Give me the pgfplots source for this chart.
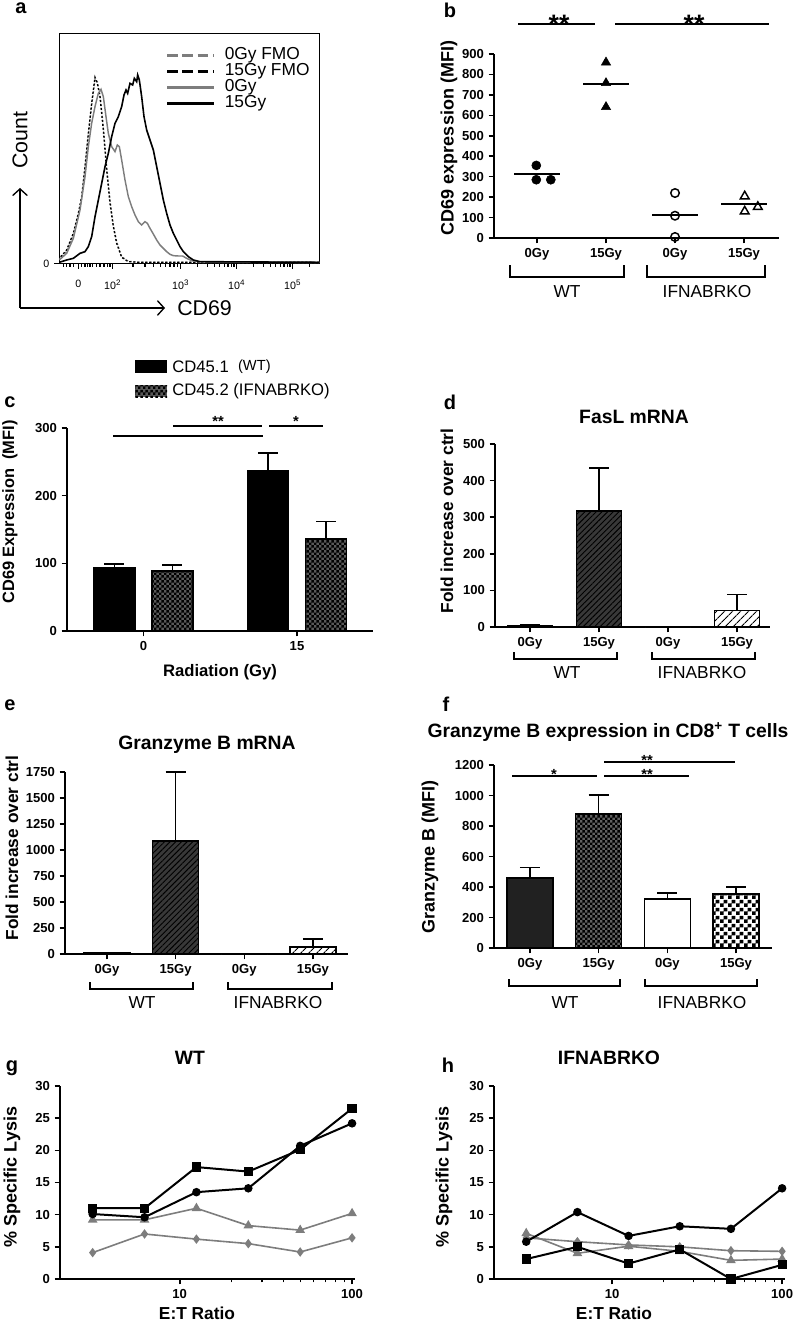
\documentclass[border=0pt]{standalone}
\usepackage{fontspec}
\setmainfont{Liberation Sans}
\usepackage{pgfplots}
\pgfplotsset{compat=1.18}
\usetikzlibrary{patterns,patterns.meta,arrows.meta}
\newcommand{\fs}[1]{\fontsize{#1}{#1}\selectfont}
\pgfdeclarepatternformonly{checkA}{\pgfqpoint{0pt}{0pt}}{\pgfqpoint{4pt}{4pt}}{\pgfqpoint{4pt}{4pt}}{%
 \pgfpathrectangle{\pgfqpoint{0pt}{0pt}}{\pgfqpoint{2pt}{2pt}}%
 \pgfpathrectangle{\pgfqpoint{2pt}{2pt}}{\pgfqpoint{2pt}{2pt}}%
 \pgfusepath{fill}}
\pgfdeclarepatternformonly{checkB}{\pgfqpoint{0pt}{0pt}}{\pgfqpoint{6pt}{6pt}}{\pgfqpoint{6pt}{6pt}}{%
 \pgfpathrectangle{\pgfqpoint{0pt}{0pt}}{\pgfqpoint{3pt}{3pt}}%
 \pgfpathrectangle{\pgfqpoint{3pt}{3pt}}{\pgfqpoint{3pt}{3pt}}%
 \pgfusepath{fill}}
\definecolor{mgray}{RGB}{125,125,125}
\pgfplotsset{
 panel/.style={scale only axis, anchor=south west, clip=false,
  axis x line*=bottom, axis y line*=left,
  axis line style={-, line width=1.3pt},
  tick align=outside, major tick length=4pt, minor tick length=2.5pt,
  tick style={black, line width=1.2pt},
  minor tick style={black, line width=0.9pt},
  tick label style={font=\fs{9.8}\bfseries},
  /pgf/number format/assume math mode=true,
  /pgf/number format/1000 sep={},
  scaled ticks=false},
 ebar/.style={error bars/.cd, y dir=plus, y explicit,
  error bar style={line width=1.2pt, black},
  error mark options={rotate=90, black, line width=1.2pt, mark size=7.5pt}},
 bbar/.style={ybar, bar shift=0pt, draw=black, line width=1.2pt},
}
\begin{document}
\begin{tikzpicture}
\path[use as bounding box] (0,0) rectangle (595.5pt,-992.25pt);

% ---------------- a ----------------
\begin{axis}[scale only axis, anchor=south west, at={(44.5pt,-197.5pt)},
  width=195pt, height=172.5pt, xmin=178, xmax=958, ymin=0, ymax=690,
  axis line style={line width=0.9pt}, tick align=outside,
  xtick pos=bottom, ytick pos=left,
  xtick={235,338,542,710,878},
  xticklabels={0,10\textsuperscript{2},10\textsuperscript{3},10\textsuperscript{4},10\textsuperscript{5}},
  minor xtick={190,200,210,220,245,255,262,270,278,290,300,312,322,330,399,435,461,481,497,510,522,533,593,622,643,659,673,684,694,702,761,790,811,827,841,852,862,870,929},
  ytick={0}, yticklabels={0},
  major tick length=4pt, minor tick length=2.5pt,
  tick style={black, line width=0.8pt},
  tick label style={font=\fs{8}}, xticklabel style={yshift=-5pt},
  legend image code/.code={\draw[#1] (0pt,0pt) -- (35pt,0pt);},
  legend cell align=left,
  legend style={draw=none, fill=none, at={(0.4065,0.94)}, anchor=north west,
    inner sep=0pt, row sep=0pt, column sep=7pt,
    nodes={font=\fs{13}, inner sep=0pt, text height=9.2pt, text depth=2.8pt}},
]
\addlegendimage{mgray, line width=2.6pt, dash pattern=on 8pt off 3.5pt}
\addlegendentry{0Gy FMO}
\addlegendimage{black, line width=2.6pt, dash pattern=on 8pt off 3.5pt}
\addlegendentry{15Gy FMO}
\addlegendimage{mgray, line width=2.6pt}
\addlegendentry{0Gy}
\addlegendimage{black, line width=2.6pt}
\addlegendentry{15Gy}
% 0Gy FMO
\addplot[forget plot, mgray, line width=1pt, dash pattern=on 1.5pt off 1.5pt] coordinates {
(178,12)(200,36)(220,86)(235,145)(245,196)(255,285)(265,385)(275,475)(285,552)(292,545)(300,505)(310,410)(320,290)(330,190)(340,115)(350,65)(365,20)(385,6)(420,3)(958,3)};
% 15Gy FMO
\addplot[forget plot, black, line width=1pt, dash pattern=on 1.5pt off 1.5pt, dash phase=1.5pt] coordinates {
(178,15)(200,40)(220,90)(235,150)(245,200)(255,290)(265,390)(275,480)(285,558)(292,540)(300,500)(310,400)(320,280)(330,180)(340,110)(350,60)(365,18)(385,5)(420,3)(958,3)};
% 0Gy
\addplot[forget plot, mgray, line width=1.1pt] coordinates {
(178,10)(200,30)(220,75)(240,160)(255,260)(265,350)(275,420)(285,470)(295,510)(303,522)(310,500)(318,440)(325,390)(335,350)(345,335)(352,355)(358,350)(365,310)(375,250)(385,200)(395,170)(405,145)(415,125)(425,115)(435,125)(442,120)(450,105)(460,88)(470,70)(480,55)(490,45)(500,35)(510,27)(520,23)(535,22)(548,22)(560,15)(575,8)(600,4)(958,3)};
% 15Gy
\addplot[forget plot, black, line width=1.2pt] coordinates {
(178,3)(200,10)(220,15)(240,30)(255,35)(265,50)(275,80)(285,140)(295,190)(305,240)(315,290)(325,330)(335,380)(345,420)(355,440)(365,470)(372,505)(378,520)(383,510)(390,540)(398,535)(403,555)(410,545)(413,565)(418,550)(425,500)(432,440)(440,400)(450,370)(460,340)(470,290)(480,240)(490,190)(500,150)(510,115)(520,90)(530,70)(540,50)(550,35)(565,20)(580,10)(600,5)(958,3)};
\end{axis}

% ---------------- b ----------------
\begin{axis}[panel, at={(370.5pt,-178.5pt)}, width=213.75pt, height=138pt,
  xmin=0.377, xmax=4.507, ymin=0, ymax=900, ytick={0,100,...,900},
  xtick={1,2,3,4}, xticklabels={0Gy,15Gy,0Gy,15Gy}]
\addplot[only marks, mark=*, mark size=3.4pt, black] coordinates {(0.99,355) (0.99,285) (1.2,285)};
\addplot[only marks, mark=triangle*, mark size=4pt, black] coordinates {(2,859) (2,758) (2,641)};
\addplot[only marks, mark=o, mark size=3.2pt, black, line width=1.1pt] coordinates {(3,220) (3,109) (3,5)};
\addplot[only marks, mark=triangle, mark size=3.8pt, black, line width=1.1pt] coordinates {(4.01,204) (4.01,130) (4.2,152)};
\addplot[black, line width=1.3pt] coordinates {(0.67,313) (1.33,313)};
\addplot[black, line width=1.3pt] coordinates {(1.67,755) (2.33,755)};
\addplot[black, line width=1.3pt] coordinates {(2.67,114) (3.33,114)};
\addplot[black, line width=1.3pt] coordinates {(3.67,168) (4.33,168)};
\end{axis}

% ---------------- c ----------------
\begin{axis}[panel, at={(50.25pt,-473.25pt)}, width=229.5pt, height=152.25pt,
  xmin=-0.498, xmax=1.495, ymin=0, ymax=300, ytick={0,100,200,300},
  xtick={0,1}, xticklabels={0,15}, bar width=30.75pt]
\addplot[bbar, fill=black, ebar]
  coordinates {(-0.189,93.6) +- (0,5.4) (0.811,236.6) +- (0,26.4)};
\addplot[bbar, fill=black!65, postaction={pattern=checkA, pattern color=black}, ebar]
  coordinates {(0.189,89) +- (0,8.5) (1.189,136) +- (0,26)};
\end{axis}

% ---------------- d ----------------
\begin{axis}[panel, at={(371.25pt,-470.25pt)}, width=206.25pt, height=137.25pt,
  xmin=0.493, xmax=4.478, ymin=0, ymax=500, ytick={0,100,...,500},
  xtick={1,2,3,4}, xticklabels={0Gy,15Gy,0Gy,15Gy}, bar width=33.75pt]
\addplot[bbar, fill=black, ebar] coordinates {(1,4) +- (0,1)};
\addplot[bbar, fill=black!78, postaction={pattern={Lines[angle=45,distance=3pt,line width=0.7pt]}, pattern color=black}, ebar]
  coordinates {(2,317) +- (0,118)};
\addplot[bbar, fill=white] coordinates {(3,0)};
\addplot[bbar, fill=white, postaction={pattern={Lines[angle=45,distance=4pt,line width=0.8pt]}, pattern color=black}, ebar]
  coordinates {(4,45.6) +- (0,43.4)};
\end{axis}

% ---------------- e ----------------
\begin{axis}[panel, at={(48.75pt,-715.5pt)}, width=212.25pt, height=136.5pt,
  xmin=0.389, xmax=4.51, ymin=0, ymax=1750, ytick={0,250,...,1750},
  xtick={1,2,3,4}, xticklabels={0Gy,15Gy,0Gy,15Gy}, bar width=34.5pt]
\addplot[bbar, fill=black] coordinates {(1,8)};
\addplot[bbar, fill=black!78, postaction={pattern={Lines[angle=45,distance=3pt,line width=0.7pt]}, pattern color=black}, ebar]
  coordinates {(2,1086) +- (0,664)};
\addplot[bbar, fill=white] coordinates {(3,0)};
\addplot[bbar, fill=white, postaction={pattern={Lines[angle=45,distance=4pt,line width=0.8pt]}, pattern color=black}, ebar]
  coordinates {(4,67) +- (0,80)};
\end{axis}

% ---------------- f ----------------
\begin{axis}[panel, at={(370.5pt,-711pt)}, width=208.5pt, height=137.25pt,
  xmin=0.476, xmax=4.524, ymin=0, ymax=1200, ytick={0,200,...,1200},
  xtick={1,2,3,4}, xticklabels={0Gy,15Gy,0Gy,15Gy}, bar width=34.5pt]
\addplot[bbar, fill=black!87, ebar] coordinates {(1,458) +- (0,70)};
\addplot[bbar, fill=black!62, postaction={pattern=checkA, pattern color=black}, ebar] coordinates {(2,877) +- (0,127)};
\addplot[bbar, fill=white, ebar] coordinates {(3,321) +- (0,39)};
\addplot[bbar, fill=white, postaction={pattern=checkB, pattern color=black}, ebar] coordinates {(4,353) +- (0,46)};
\end{axis}

% ---------------- g ----------------
\begin{axis}[panel, xmode=log, log ticks with fixed point, at={(45pt,-959.25pt)},
  width=221.25pt, height=144.75pt, xmin=2.02, xmax=104, ymin=0, ymax=30,
  ytick={0,5,...,30}, xtick={10,100}]
\addplot[mgray, line width=1.2pt, mark=diamond*, mark size=2.6pt] coordinates {(3.125,4.1)(6.25,7.0)(12.5,6.2)(25,5.5)(50,4.2)(100,6.4)};
\addplot[mgray, line width=1.2pt, mark=triangle*, mark size=3pt] coordinates {(3.125,9.2)(6.25,9.2)(12.5,11.0)(25,8.3)(50,7.6)(100,10.2)};
\addplot[black, line width=1.5pt, mark=*, mark size=2.4pt] coordinates {(3.125,10.1)(6.25,9.6)(12.5,13.5)(25,14.1)(50,20.7)(100,24.2)};
\addplot[black, line width=1.5pt, mark=square*, mark size=2.7pt] coordinates {(3.125,11.0)(6.25,11.0)(12.5,17.4)(25,16.7)(50,20.1)(100,26.5)};
\end{axis}

% ---------------- h ----------------
\begin{axis}[panel, xmode=log, log ticks with fixed point, at={(370.5pt,-959.25pt)},
  width=218.25pt, height=144.75pt, xmin=2.02, xmax=104, ymin=0, ymax=30,
  ytick={0,5,...,30}, xtick={10,100}]
\addplot[mgray, line width=1.2pt, mark=diamond*, mark size=2.6pt] coordinates {(3.125,6.4)(6.25,5.8)(12.5,5.3)(25,5.0)(50,4.4)(100,4.3)};
\addplot[mgray, line width=1.2pt, mark=triangle*, mark size=3pt] coordinates {(3.125,7.1)(6.25,4.0)(12.5,5.1)(25,4.3)(50,2.9)(100,3.1)};
\addplot[black, line width=1.5pt, mark=*, mark size=2.4pt] coordinates {(3.125,5.8)(6.25,10.4)(12.5,6.7)(25,8.2)(50,7.8)(100,14.1)};
\addplot[black, line width=1.5pt, mark=square*, mark size=2.7pt] coordinates {(3.125,3.1)(6.25,5.0)(12.5,2.4)(25,4.6)(50,0)(100,2.2)};
\end{axis}

% ---------------- annotations (pixel coordinates) ----------------
\begin{scope}[x=0.75pt, y=-0.75pt]
% panel letters
\foreach \t/\xx/\yy in {a/21/8, b/450/10, c/10/402, d/450/402, e/10/705, f/446/704, g/12/1068, h/448/1065}
  \node[font=\fs{15}\bfseries, inner sep=0pt] at (\xx,\yy) {\t};
% a axes labels
\draw[line width=1pt, -{Straight Barb[length=5pt,width=11pt]}] (20,308) -- (20,188);
\draw[line width=1pt, -{Straight Barb[length=5pt,width=11pt]}] (20,308) -- (165,308);
\node[font=\fs{16}, rotate=90, inner sep=0pt] at (20,140) {Count};
\node[font=\fs{16}, inner sep=0pt, anchor=west] at (177,308) {CD69};
% y labels
\node[font=\fs{13.5}\bfseries, rotate=90] at (449,138) {CD69 expression (MFI)};
\node[font=\fs{12.3}\bfseries, rotate=90] at (10,512) {CD69 Expression\ \ (MFI)};
\node[font=\fs{13}\bfseries, rotate=90] at (447,521) {Fold increase over ctrl};
\node[font=\fs{13}\bfseries, rotate=90] at (12,848) {Fold increase over ctrl};
\node[font=\fs{13.5}\bfseries, rotate=90] at (430,857) {Granzyme B (MFI)};
\node[font=\fs{13.5}\bfseries, rotate=90] at (12,1177) {\% Specific Lysis};
\node[font=\fs{13.5}\bfseries, rotate=90] at (444,1177) {\% Specific Lysis};
% x labels
\node[font=\fs{12.5}\bfseries] at (220,672) {Radiation (Gy)};
\node[font=\fs{13}\bfseries, inner sep=0pt] at (197,1313) {E:T Ratio};
\node[font=\fs{13}\bfseries, inner sep=0pt] at (614,1313) {E:T Ratio};
% titles
\node[font=\fs{14.5}\bfseries] at (634,417) {FasL mRNA};
\node[font=\fs{14.5}\bfseries] at (207,745) {Granzyme B mRNA};
\node[font=\fs{14.5}\bfseries] at (608,732) {Granzyme B expression in CD8\textsuperscript{+} T cells};
\node[font=\fs{14.5}\bfseries] at (190,1058) {WT};
\node[font=\fs{14.5}\bfseries] at (609,1058) {IFNABRKO};
% brackets and group labels
\foreach \l/\r/\ta/\tb in {510/624/265/277, 647/765/265/277, 514/617/652/659, 652/755/652/659, 90/193/982/989, 228/332/982/989, 509/620/979/986, 645/757/979/986}
  \draw[line width=1.3pt] (\l,\ta) -- (\l,\tb) -- (\r,\tb) -- (\r,\ta);
\foreach \t/\xx/\yy in {WT/567/292, IFNABRKO/707/292, WT/567/673, IFNABRKO/702/673, WT/142/1003, IFNABRKO/278/1003, WT/565/1003, IFNABRKO/702/1003}
  \node[font=\fs{13}] at (\xx,\yy) {\t};
% significance b
\draw[line width=1pt] (518,24) -- (595,24);
\draw[line width=1pt] (615,24) -- (769,24);
\node[font=\fs{20}\bfseries] at (559,24) {**};
\node[font=\fs{20}\bfseries] at (694,24) {**};
% significance c
\draw[line width=1.5pt] (113,436) -- (263,436);
\draw[line width=1.5pt] (173,426) -- (262,426);
\draw[line width=1.5pt] (269,426) -- (323,426);
\node[font=\fs{11}\bfseries] at (218,421) {**};
\node[font=\fs{11}\bfseries] at (296,421) {*};
% significance f
\draw[line width=1.5pt] (512,776) -- (597,776);
\draw[line width=1.5pt] (604,776) -- (689,776);
\draw[line width=1.5pt] (604,762) -- (735,762);
\node[font=\fs{11}\bfseries] at (554,774) {*};
\node[font=\fs{11}\bfseries] at (647,774) {**};
\node[font=\fs{11}\bfseries] at (647,760) {**};
% legend c
\fill[black] (135,360) rectangle (167,373);
\fill[black!65] (135,385) rectangle (167,397);
\fill[pattern=checkA, pattern color=black] (135,385) rectangle (167,397);
\node[font=\fs{12.5}, anchor=west, inner sep=0pt] at (172,367) {CD45.1\hspace{7pt}{\fs{11}\raisebox{1.5pt}{(WT)}}};
\node[font=\fs{12.5}, anchor=west, inner sep=0pt] at (172,391) {CD45.2 (IFNABRKO)};
\end{scope}
\end{tikzpicture}
\end{document}
